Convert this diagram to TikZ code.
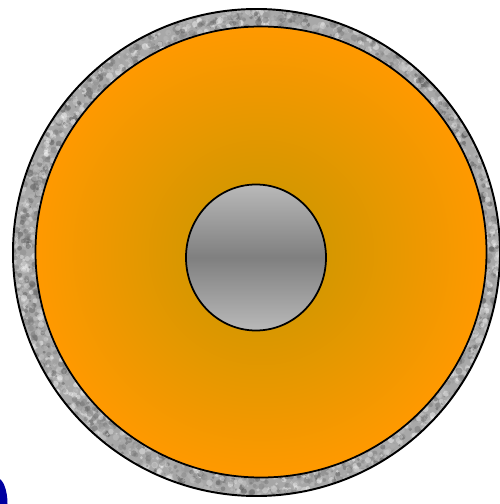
\documentclass[tikz,border=0pt]{standalone}
\definecolor{rimgray}{RGB}{168,168,168}
\definecolor{coreorange}{RGB}{255,153,0}
\definecolor{coreolive}{RGB}{196,150,0}
\definecolor{markblue}{RGB}{0,0,160}
\begin{document}
\begin{tikzpicture}[x=0.02cm,y=0.02cm,
    rim/.style={draw=black,line width=1.1pt},
    core/.style={draw=black,line width=1pt,inner color=coreolive,outer color=coreorange},
    rod/.style={draw=black,line width=1pt,top color=gray!55,bottom color=gray!55,middle color=gray}
]
\useasboundingbox (0,0) rectangle (500,504);
\clip (0,0) rectangle (500,504);
\coordinate (C0) at (256.5,251.5);
\coordinate (C1) at (261,252);
\coordinate (C2) at (256,246.5);

% granite rim
\fill[rimgray] (C0) circle (243.5);
\begin{scope}
  \clip (C0) circle (243.5);
  \pgfmathsetseed{7}
  \foreach \i in {1,...,2600}{
    \pgfmathsetmacro\ang{360*rnd}
    \pgfmathsetmacro\rad{222+22*rnd}
    \pgfmathsetmacro\lev{70*rnd}
    \fill[black!\lev!white,opacity=0.45] ([shift={(\ang:\rad)}]C0) circle (1+2.5*rnd);
  }
\end{scope}
\draw[rim] (C0) circle (243.5);

% orange core
\shade[core] (C1) circle (225.5);

% grey rod
\shade[rod] (C2) ellipse (70 and 73);

% blue mark at the lower left corner
\fill[markblue] (-3,0) ellipse (10.5 and 26);
\end{tikzpicture}
\end{document}
